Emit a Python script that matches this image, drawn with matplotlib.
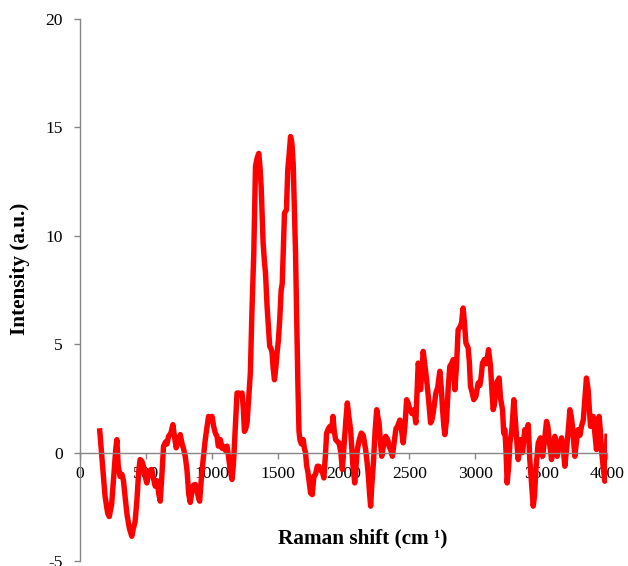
import matplotlib
matplotlib.use("Agg")
import matplotlib.pyplot as plt

plt.rcParams['font.family'] = ['Liberation Serif', 'DejaVu Serif']
plt.rcParams['axes.unicode_minus'] = False

raman_shift = [
    150, 170, 190, 210, 222, 240, 260, 272, 280, 290, 304, 318, 330, 345, 358, 375, 393, 405, 418, 432,
    445, 456, 470, 482, 495, 507, 520, 535, 545, 558, 571, 585, 598, 609, 620, 634, 650, 660, 672, 690,
    705, 718, 730, 745, 761, 775, 785, 799, 812, 825, 837, 850, 862, 875, 890, 900, 908, 920, 935, 951,
    962, 976, 990, 1002, 1015, 1027, 1040, 1050, 1065, 1078, 1090, 1103, 1116, 1130, 1140, 1154, 1165, 1179, 1192, 1205,
    1220, 1230, 1240, 1248, 1258, 1268, 1280, 1293, 1305, 1319, 1332, 1345, 1357, 1366, 1375, 1390, 1400, 1408, 1420, 1430,
    1440, 1450, 1458, 1466, 1476, 1486, 1496, 1506, 1516, 1527, 1535, 1542, 1552, 1567, 1577, 1588, 1598, 1608, 1618, 1628,
    1636, 1645, 1654, 1662, 1669, 1680, 1694, 1703, 1712, 1720, 1730, 1750, 1763, 1775, 1788, 1801, 1813, 1825, 1840, 1851,
    1862, 1872, 1885, 1897, 1910, 1920, 1930, 1940, 1955, 1966, 1980, 1991, 2005, 2018, 2029, 2040, 2054, 2070, 2085, 2095,
    2105, 2120, 2135, 2150, 2168, 2180, 2189, 2198, 2206, 2215, 2227, 2240, 2252, 2262, 2270, 2280, 2290, 2305, 2320, 2335,
    2346, 2360, 2371, 2385, 2398, 2410, 2428, 2440, 2453, 2466, 2479, 2490, 2504, 2520, 2536, 2549, 2558, 2567, 2577, 2585,
    2595, 2605, 2618, 2631, 2645, 2661, 2671, 2681, 2691, 2701, 2715, 2731, 2742, 2752, 2762, 2769, 2782, 2795, 2807, 2820,
    2833, 2845, 2858, 2870, 2885, 2896, 2908, 2918, 2929, 2946, 2955, 2964, 2975, 2989, 3005, 3022, 3035, 3045, 3055, 3070,
    3085, 3101, 3116, 3125, 3136, 3145, 3161, 3181, 3192, 3207, 3216, 3225, 3234, 3242, 3254, 3263, 3277, 3293, 3308, 3318,
    3326, 3344, 3359, 3376, 3390, 3402, 3414, 3428, 3440, 3450, 3460, 3478, 3495, 3511, 3525, 3541, 3551, 3561, 3579, 3592,
    3604, 3622, 3638, 3655, 3668, 3680, 3695, 3710, 3718, 3728, 3738, 3756, 3768, 3781, 3795, 3806, 3820, 3832, 3844, 3857,
    3866, 3875, 3885, 3895, 3908, 3920, 3930, 3940, 3950, 3958, 3970, 3983, 3992, 4000,
]
intensity = [
    1.0, -0.5, -2.0, -2.8, -2.95, -2.4, -0.8, 0.2, 0.6, -0.6, -1.1, -1.0, -1.3, -2.2, -2.9, -3.5, -3.86, -3.5, -3.2, -2.2,
    -0.9, -0.32, -0.4, -0.63, -1.1, -1.4, -1.0, -0.8, -0.78, -1.2, -1.55, -1.3, -1.9, -2.24, -1.2, 0.29, 0.5, 0.4, 0.75, 0.9,
    1.29, 0.7, 0.22, 0.5, 0.83, 0.4, 0.2, -0.17, -0.8, -1.9, -2.3, -1.8, -1.5, -1.47, -1.8, -2.1, -2.24, -1.3, -0.3, 0.6,
    1.1, 1.67, 1.5, 1.67, 1.2, 0.9, 0.75, 0.3, 0.6, 0.2, 0.29, 0.1, 0.3, -0.3, -0.8, -1.24, -0.5, 1.2, 2.75, 2.75,
    2.7, 2.75, 2.0, 0.98, 1.1, 1.37, 2.5, 3.67, 6.5, 9.2, 13.2, 13.6, 13.8, 13.2, 12.27, 9.66, 8.8, 8.28, 6.74, 5.8,
    4.9, 4.8, 4.6, 3.9, 3.36, 3.9, 4.6, 5.2, 6.13, 7.5, 7.8, 9.2, 11.05, 11.2, 13.04, 13.8, 14.58, 14.3, 13.35, 11.0,
    9.2, 6.0, 3.06, 1.0, 0.6, 0.4, 0.6, 0.2, 0.0, -0.6, -0.9, -1.86, -1.94, -1.09, -1.0, -0.63, -0.63, -0.8, -0.9, -1.17,
    -0.2, 0.9, 1.1, 1.21, 1.0, 1.67, 1.0, 0.6, 0.5, 0.45, 0.0, -0.78, 0.4, 1.5, 2.29, 1.7, 1.06, -0.5, -1.4, -0.6,
    0.14, 0.6, 0.9, 0.8, 0.14, -0.5, -1.09, -1.9, -2.47, -1.5, -0.48, 1.0, 1.98, 1.6, 1.37, 0.5, -0.17, 0.4, 0.75, 0.6,
    0.29, 0.1, -0.17, 0.5, 1.1, 1.21, 1.5, 1.06, 0.45, 1.2, 2.44, 2.3, 1.98, 1.8, 1.98, 1.37, 2.8, 4.13, 3.8, 2.9,
    3.8, 4.67, 4.0, 3.36, 2.5, 1.37, 1.5, 1.83, 2.3, 2.75, 3.0, 3.75, 3.0, 1.98, 1.2, 0.83, 1.5, 3.0, 3.98, 4.1,
    4.29, 2.9, 4.0, 5.67, 5.8, 6.0, 6.67, 6.0, 5.06, 4.83, 4.2, 3.06, 2.8, 2.44, 2.6, 3.21, 3.1, 3.5, 4.13, 4.3,
    4.1, 4.75, 3.98, 3.0, 1.98, 2.2, 3.21, 3.44, 2.5, 1.98, 0.9, 1.06, 0.0, -1.4, -0.6, 0.45, 1.0, 2.44, 1.21, 0.3,
    -0.32, 0.6, 0.0, 1.06, 0.8, 1.29, -0.32, -1.5, -2.47, -2.0, -0.78, 0.45, 0.68, -0.17, 0.5, 1.44, 1.2, 0.6, -0.32, 0.2,
    0.75, -0.17, 0.4, 0.68, 0.2, -0.63, 0.3, 1.3, 1.98, 1.7, 1.21, -0.17, 0.5, 1.06, 0.8, 1.21, 1.5, 2.5, 3.44, 2.9,
    2.0, 1.21, 1.5, 1.67, 0.9, 0.14, 0.8, 1.67, 1.0, 0.14, -0.6, -1.32, -0.5, 0.75,
]
x_ticks = [0, 500, 1000, 1500, 2000, 2500, 3000, 3500, 4000]
y_ticks = [-5, 0, 5, 10, 15, 20]
x_label = "Raman shift (cm \u00b9)"
y_label = "Intensity (a.u.)"

fig = plt.figure(figsize=(6.28, 5.66), dpi=100)
ax = fig.add_axes([80 / 628, 1 - 561 / 566, 527 / 628, 542 / 566])

ax.plot(raman_shift, intensity, color='#FF0000', linewidth=3.9, solid_joinstyle='round')

ax.set_xlim(0, 4000)
ax.set_ylim(-5, 20)
ax.set_xticks(x_ticks)
ax.set_yticks(y_ticks)

grey = '#868686'
for s in ['top', 'right']:
    ax.spines[s].set_visible(False)
ax.spines['bottom'].set_position(('data', 0))
ax.spines['left'].set_color(grey)
ax.spines['bottom'].set_color(grey)
ax.spines['left'].set_linewidth(1.0)
ax.spines['bottom'].set_linewidth(1.0)
ax.tick_params(axis='both', which='major', direction='out', length=4, width=1.0,
               color=grey, labelsize=12.6, labelcolor='black')
ax.tick_params(axis='y', pad=8.5)
ax.tick_params(axis='x', pad=5.5)

fig.text(362.5 / 628, 1 - 543 / 566, x_label, ha='center', va='baseline',
         fontsize=15.3, fontweight='bold')
fig.text(20 / 628, 1 - 268.5 / 566, y_label, ha='center', va='center',
         rotation=90, fontsize=15.3, fontweight='bold')

fig.savefig('out.png', dpi=100)
